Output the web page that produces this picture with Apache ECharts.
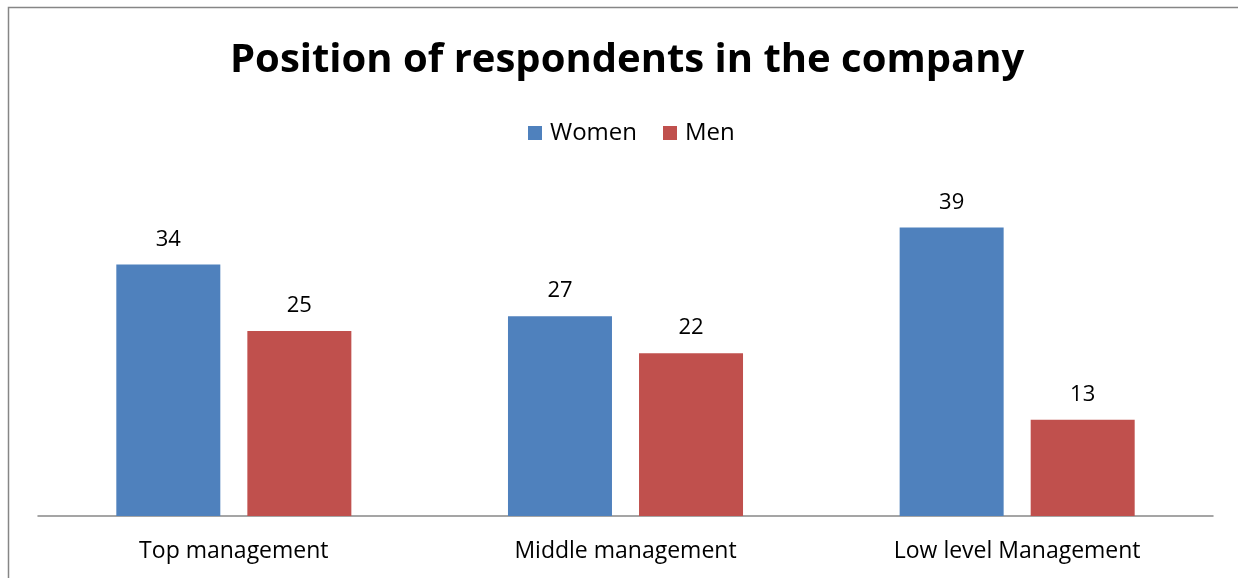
<!DOCTYPE html>
<html>
<head>
<meta charset="utf-8">
<script src="https://cdn.jsdelivr.net/npm/echarts@6/dist/echarts.min.js"></script>
<style>
  html, body { margin: 0; padding: 0; background: #fff; }
  #chart { width: 1238px; height: 578px; }
</style>
</head>
<body>
<div id="chart"></div>
<script>
// Survey: position of respondents in the company, by gender
const categories = ['Top management', 'Middle management', 'Low level Management'];
const women = [34, 27, 39];
const men = [25, 22, 13];

const FONT = '"Open Sans", Lato, sans-serif';

const chart = echarts.init(document.getElementById('chart'));
chart.setOption({
  animation: false,
  backgroundColor: '#ffffff',
  textStyle: { fontFamily: FONT },
  title: {
    text: 'Position of respondents in the company',
    left: 225,
    top: 36,
    textStyle: { fontFamily: FONT, fontSize: 40, fontWeight: 'bold', color: '#000' }
  },
  legend: {
    data: ['Women', 'Men'],
    top: 116,
    left: 523,
    itemWidth: 14,
    itemHeight: 14,
    itemGap: 26,
    icon: 'rect',
    textStyle: { fontFamily: FONT, fontSize: 24, color: '#000', padding: [0, 0, 0, 3] }
  },
  grid: { left: 38, right: 25, top: 183, bottom: 62 },
  xAxis: {
    type: 'category',
    data: categories,
    axisLine: { lineStyle: { color: '#888888', width: 1.5 } },
    axisTick: { show: false },
    axisLabel: { fontFamily: FONT, fontSize: 23, color: '#000', margin: 24 }
  },
  yAxis: {
    type: 'value',
    min: 0,
    max: 45,
    show: false,
    splitLine: { show: false }
  },
  series: [
    {
      name: 'Women',
      type: 'bar',
      data: women,
      barWidth: 104,
      barGap: '26%',
      itemStyle: { color: '#4F81BD' },
      label: { show: true, position: 'top', distance: 14, fontFamily: FONT, fontSize: 22, color: '#000' }
    },
    {
      name: 'Men',
      type: 'bar',
      data: men,
      barWidth: 104,
      barGap: '26%',
      itemStyle: { color: '#C0504D' },
      label: { show: true, position: 'top', distance: 14, fontFamily: FONT, fontSize: 22, color: '#000' }
    }
  ],
  graphic: [
    {
      type: 'rect',
      silent: true,
      shape: { x: 8.5, y: 7.5, width: 1400, height: 800 },
      style: { fill: 'none', stroke: '#868686', lineWidth: 1.5 }
    }
  ]
});
</script>
</body>
</html>
